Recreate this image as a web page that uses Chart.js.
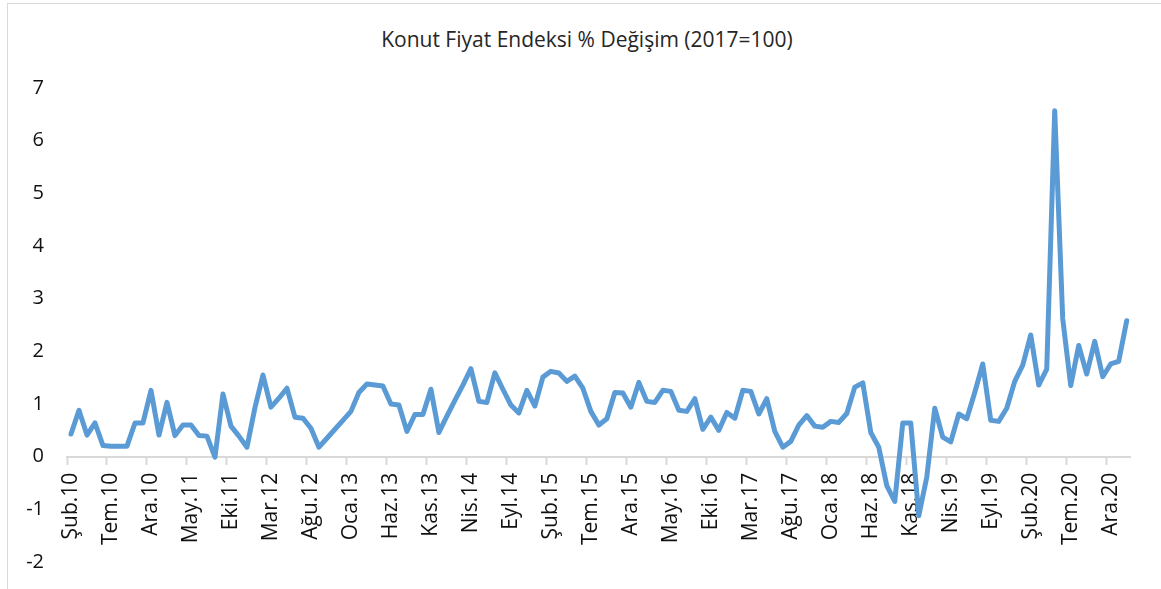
<!DOCTYPE html>
<html>
<head>
<meta charset="utf-8">
<script src="https://cdn.jsdelivr.net/npm/chart.js@4"></script>
<style>
  html, body { margin: 0; padding: 0; background: #fff; }
  #wrap { position: relative; width: 1161px; height: 589px; overflow: hidden; }
  #frame { position: absolute; left: 7px; top: 3px; width: 1200px; height: 700px;
           border-left: 1px solid #d9d9d9; border-top: 1px solid #d9d9d9; }
  #title { position: absolute; left: 0; width: 1174px; top: 25px; text-align: center;
           font-family: "Open Sans", sans-serif; font-size: 21px; color: #262626; }
  canvas { position: absolute; left: 0; top: 0; }
</style>
</head>
<body>
<div id="wrap">
  <div id="frame"></div>
  <div id="title">Konut Fiyat Endeksi % Değişim (2017=100)</div>
  <canvas id="myChart" width="1161" height="597"></canvas>
</div>
<script>
// ay kısaltmaları, seri Şub.10 - Şub.21
var months = ["Oca", "Şub", "Mar", "Nis", "May", "Haz", "Tem", "Ağu", "Eyl", "Eki", "Kas", "Ara"];
var yTicks = [-2, -1, 0, 1, 2, 3, 4, 5, 6, 7];
var values = [
  0.43, 0.88, 0.41, 0.64, 0.21, 0.20, 0.20, 0.20, 0.64, 0.64, 1.26, 0.41, 1.03, 0.40, 0.60, 0.60,
  0.40, 0.39, -0.01, 1.19, 0.58, 0.39, 0.18, 0.93, 1.55, 0.94, 1.11, 1.30, 0.75, 0.73, 0.54, 0.18,
  0.35, 0.52, 0.69, 0.86, 1.22, 1.38, 1.36, 1.34, 1.00, 0.98, 0.48, 0.80, 0.80, 1.28, 0.46, 0.77,
  1.07, 1.36, 1.67, 1.05, 1.03, 1.59, 1.28, 0.98, 0.83, 1.26, 0.96, 1.51, 1.62, 1.59, 1.43, 1.53,
  1.30, 0.86, 0.60, 0.72, 1.22, 1.21, 0.94, 1.41, 1.05, 1.03, 1.26, 1.24, 0.88, 0.86, 1.10, 0.52,
  0.75, 0.50, 0.84, 0.73, 1.26, 1.24, 0.81, 1.10, 0.48, 0.18, 0.29, 0.60, 0.78, 0.58, 0.56, 0.67,
  0.65, 0.82, 1.32, 1.40, 0.46, 0.18, -0.55, -0.85, 0.64, 0.64, -1.12, -0.39, 0.92, 0.37, 0.28, 0.81,
  0.72, 1.22, 1.76, 0.69, 0.67, 0.92, 1.43, 1.74, 2.31, 1.36, 1.66, 6.57, 2.62, 1.35, 2.11, 1.57,
  2.19, 1.52, 1.76, 1.81, 2.58
];

var categories = [];
for (var i = 0; i < values.length; i++) {
  var m = (1 + i) % 12;
  var y = 10 + Math.floor((1 + i) / 12);
  categories.push(months[m] + "." + y);
}

var ctx = document.getElementById("myChart");
var myChart = new Chart(ctx, {
  type: "line",
  data: {
    labels: categories,
    datasets: [
      {
        label: "",
        data: values,
        borderColor: "#5b9bd5",
        borderWidth: 5,
        pointRadius: 0,
        tension: 0,
        borderJoinStyle: "round",
        borderCapStyle: "round",
      },
    ],
  },
  options: {
    responsive: false,
    animation: false,
    layout: { padding: { left: 0, right: 26, top: 88, bottom: 18 } },
    plugins: { legend: { display: false }, tooltip: { enabled: false } },
    scales: {
      x: {
        type: "category",
        position: { y: 0 },
        offset: true,
        grid: {
          offset: true,
          drawOnChartArea: false,
          drawTicks: true,
          tickLength: 7,
          tickWidth: 2,
          tickColor: function (c) {
            return c.index % 5 === 0 ? "#d9d9d9" : "rgba(0,0,0,0)";
          },
        },
        border: { color: "#d9d9d9", width: 2 },
        ticks: {
          autoSkip: false,
          minRotation: 90,
          maxRotation: 90,
          padding: 9,
          color: "#111",
          font: { family: "Open Sans", size: 21 },
          callback: function (v, i) {
            return i % 5 === 0 ? categories[i] : "";
          },
        },
      },
      y: {
        min: yTicks[0],
        max: yTicks[yTicks.length - 1],
        afterFit: function (s) { s.width = 67; },
        grid: { display: false, drawTicks: false },
        border: { display: false },
        ticks: {
          stepSize: 1,
          padding: 23,
          color: "#111",
          font: { family: "Open Sans", size: 20 },
        },
      },
    },
  },
});
</script>
</body>
</html>
